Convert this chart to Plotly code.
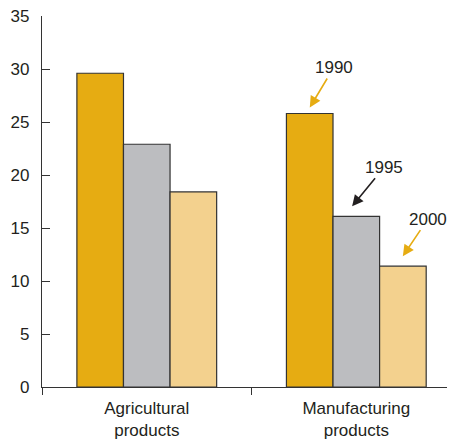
import plotly.graph_objects as go

# Categories and series values
categories = ["Agricultural<br>products", "Manufacturing<br>products"]
years = ["1990", "1995", "2000"]
values_1990 = [29.6, 25.8]
values_1995 = [22.9, 16.1]
values_2000 = [18.4, 11.4]
y_ticks = [0, 5, 10, 15, 20, 25, 30, 35]

colors = ["#E6AC12", "#BCBDC0", "#F3D18E"]
arrow_colors = ["#E6AC12", "#231F20", "#E6AC12"]
text_color = "#231F20"

fig = go.Figure()
for year, vals, col in zip(years, [values_1990, values_1995, values_2000], colors):
    fig.add_trace(go.Bar(
        x=categories, y=vals, name=year,
        marker=dict(color=col, line=dict(color="#333333", width=1.2)),
    ))

# year labels with arrows pointing at the manufacturing bars
bar_w = 0.222
series = [values_1990, values_1995, values_2000]
shifts = [(-1, 24, -40, 6), (0, 32, -39, 10), (1, 25, -37, 10)]
for i, (year, (k, ax, ay, ys)) in enumerate(zip(years, shifts)):
    fig.add_annotation(
        x=1 + k * bar_w - (0.02 if i == 1 else 0), y=series[i][1], xref="x", yref="y",
        yshift=ys, text=year, showarrow=True,
        arrowhead=2, arrowsize=1.4, arrowwidth=1.6, arrowcolor=arrow_colors[i],
        ax=ax, ay=ay, font=dict(size=17, color=text_color),
    )

fig.update_layout(
    width=447, height=432,
    margin=dict(l=34, r=0, t=8, b=53),
    barmode="group", bargap=0.333, bargroupgap=0,
    showlegend=False,
    plot_bgcolor="white", paper_bgcolor="white",
    font=dict(family="Liberation Sans, Arial, sans-serif", size=17, color=text_color),
)
fig.update_xaxes(
    type="category", range=[-0.5, 1.471], tickson="boundaries",
    ticks="outside", ticklen=7, tickwidth=1.2, tickcolor="#333333",
    showline=True, linecolor="#333333", linewidth=1.2, showgrid=False,
    ticklabelstandoff=5,
)
fig.update_yaxes(
    range=[0, 35], tickvals=y_ticks, ticks="inside", ticklen=8, tickwidth=1.2,
    tickcolor="#333333", showline=True, linecolor="#333333", linewidth=1.2,
    showgrid=False, zeroline=False, ticklabelstandoff=8,
    ticklabeloverflow="allow",
)

fig.write_html("out.html")
